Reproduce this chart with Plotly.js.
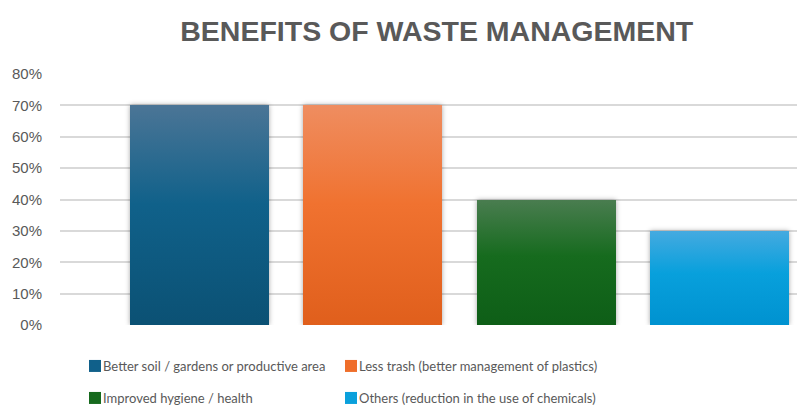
<!DOCTYPE html>
<html><head><meta charset="utf-8">
<script src="https://cdn.plot.ly/plotly-3.0.1.min.js"></script>
<style>
html,body{margin:0;padding:0;background:#fff}
#chart{width:797px;height:411px}
#chart .legendtext, #chart .legend2text, #chart .legend3text, #chart .legend4text{transform:translateX(-12px)}
#chart .barlayer .trace:nth-child(1) .point path{fill:url(#barGrad0) !important}
#chart .barlayer .trace:nth-child(2) .point path{fill:url(#barGrad1) !important}
#chart .barlayer .trace:nth-child(3) .point path{fill:url(#barGrad2) !important}
#chart .barlayer .trace:nth-child(4) .point path{fill:url(#barGrad3) !important}
#chart .barlayer .point path{filter:drop-shadow(0px 0px 2.5px rgba(0,0,0,0.35))}
</style>
</head><body>
<svg id="gradDefs" width="0" height="0" style="position:absolute"><defs></defs></svg>
<div id="chart"></div>
<script>
const categories = [
  'Better soil / gardens or productive area',
  'Less trash (better management of plastics)',
  'Improved hygiene / health',
  'Others (reduction in the use of chemicals)'
];
const values = [0.70, 0.70, 0.40, 0.30];
const barColors = ['#10608a', '#ef6e2a', '#16691d', '#0aa0dc'];
const gradTop = ['#4b7596', '#ef8d60', '#4a7d50', '#45aae0'];
const gradMid = ['#10618a', '#f07230', '#166b1e', '#08a0dc'];
const gradBottom = ['#0b5174', '#e05f1c', '#0e5e17', '#0092d0'];
const tickVals = [0, 0.1, 0.2, 0.3, 0.4, 0.5, 0.6, 0.7, 0.8];

const legendIds = ['legend', 'legend2', 'legend3', 'legend4'];
const LEG_FONT = 'Lato, "Liberation Sans", Arial, sans-serif';
const AX_FONT = '"Liberation Sans", Arial, sans-serif';

// gradient definitions used by the bar fills (see stylesheet)
(function buildGradients() {
  const svgNS = 'http://www.w3.org/2000/svg';
  const defs = document.querySelector('#gradDefs defs');
  categories.forEach((c, i) => {
    const g = document.createElementNS(svgNS, 'linearGradient');
    g.setAttribute('id', 'barGrad' + i);
    g.setAttribute('x1', '0'); g.setAttribute('y1', '0');
    g.setAttribute('x2', '0'); g.setAttribute('y2', '1');
    [[0, gradTop[i]], [0.45, gradMid[i]], [1, gradBottom[i]]].forEach(([o, col]) => {
      const s = document.createElementNS(svgNS, 'stop');
      s.setAttribute('offset', o); s.setAttribute('stop-color', col);
      g.appendChild(s);
    });
    defs.appendChild(g);
  });
})();

const traces = categories.map((c, i) => ({
  type: 'bar',
  x: [c],
  y: [values[i]],
  name: c,
  width: 0.802,
  marker: {color: barColors[i], line: {width: 0}},
  legend: legendIds[i],
  hoverinfo: 'name+y'
}));

// symbol centre positions of each legend entry (pixels)
const legendPos = [
  {x: 95, y: 366}, {x: 351, y: 366},
  {x: 95, y: 398}, {x: 351, y: 398}
];
const L = 60, R = 0, T = 74, B = 86, W = 797, H = 411;
const pw = W - L - R, ph = H - T - B;

const layout = {
  width: W, height: H,
  margin: {l: L, r: R, t: T, b: B, autoexpand: false},
  paper_bgcolor: '#ffffff', plot_bgcolor: '#ffffff',
  font: {family: AX_FONT, color: '#595959', size: 15},
  title: {
    text: 'BENEFITS OF WASTE MANAGEMENT',
    font: {family: AX_FONT, size: 28.5, color: '#595959', weight: 'bold'},
    x: 0.548, xref: 'container', xanchor: 'center',
    y: 1 - 31 / H, yref: 'container', yanchor: 'middle'
  },
  barmode: 'overlay',
  bargap: 0,
  showlegend: true,
  xaxis: {
    type: 'category',
    range: [-0.805, 3.447],
    showticklabels: false, showgrid: false, zeroline: false, showline: false, ticks: ''
  },
  yaxis: {
    range: [0, 0.8],
    tickvals: tickVals,
    tickformat: '.0%',
    showgrid: true, gridcolor: '#d9d9d9', gridwidth: 2,
    zeroline: false, showline: false,
    ticks: 'outside', ticklen: 14, tickcolor: 'rgba(0,0,0,0)',
    tickfont: {family: AX_FONT, size: 15, color: '#595959'}
  }
};
legendIds.forEach((id, i) => {
  layout[id] = {
    orientation: 'h',
    x: (legendPos[i].x - 20 - L) / pw, xanchor: 'left',
    y: (T + ph - legendPos[i].y) / ph, yanchor: 'middle',
    bgcolor: 'rgba(0,0,0,0)', borderwidth: 0,
    font: {family: LEG_FONT, size: 13, color: '#595959'},
    itemwidth: 30
  };
});

Plotly.newPlot('chart', traces, layout, {displayModeBar: false, staticPlot: true});
</script>
</body></html>
